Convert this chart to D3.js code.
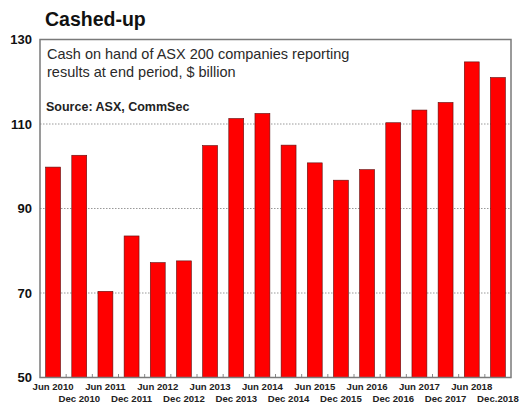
<!DOCTYPE html>
<html>
<head>
<meta charset="utf-8">
<script src="https://cdn.jsdelivr.net/npm/d3@7/dist/d3.min.js"></script>
<style>
  html, body { margin: 0; padding: 0; background: #fff; }
  svg { display: block; font-family: "Liberation Sans", Arial, sans-serif; }
</style>
</head>
<body>
<svg id="chart" width="521" height="403"></svg>
<script>
// Half-yearly reporting periods
const periods = [
  "Jun 2010", "Dec 2010", "Jun 2011", "Dec 2011", "Jun 2012", "Dec 2012",
  "Jun 2013", "Dec 2013", "Jun 2014", "Dec 2014", "Jun 2015", "Dec 2015",
  "Jun 2016", "Dec 2016", "Jun 2017", "Dec 2017", "Jun 2018", "Dec.2018"
];
// Cash on hand, $ billion
const cash = [
  99.8, 102.6, 70.4, 83.5, 77.2, 77.6,
  104.9, 111.3, 112.5, 105.0, 100.8, 96.7,
  99.2, 110.3, 113.3, 115.1, 124.7, 121.0
];
const yTicks = [50, 70, 90, 110, 130];

const svg = d3.select("#chart");
const box = { left: 40, right: 511, top: 39.5, bottom: 377.5 };

const x = d3.scaleBand()
  .domain(periods)
  .range([box.left, box.right])
  .paddingInner(0.43)
  .paddingOuter(0.215);

const y = d3.scaleLinear()
  .domain([50, 130])
  .range([box.bottom, box.top]);

// Title
svg.append("text")
  .attr("x", 45).attr("y", 26)
  .attr("font-size", 19.5).attr("font-weight", "bold")
  .attr("fill", "#111")
  .text("Cashed-up");

// Dotted gridlines
svg.append("g")
  .selectAll("line")
  .data(yTicks.filter(d => d > 50 && d < 130))
  .join("line")
  .attr("x1", box.left).attr("x2", box.right)
  .attr("y1", d => y(d)).attr("y2", d => y(d))
  .attr("stroke", "#999").attr("stroke-width", 1)
  .attr("stroke-dasharray", "1.5,1.5");

// Bars
svg.append("g")
  .selectAll("rect")
  .data(periods)
  .join("rect")
  .attr("x", d => x(d))
  .attr("width", x.bandwidth())
  .attr("y", (d, i) => y(cash[i]))
  .attr("height", (d, i) => y(50) - y(cash[i]))
  .attr("fill", "#ff0000")
  .attr("stroke", "#5a1010").attr("stroke-width", 0.6);

// Small ticks on the category axis at band boundaries
const step = x.step();
const bounds = d3.range(1, periods.length).map(i => box.left + i * step);
svg.append("g")
  .selectAll("line")
  .data(bounds)
  .join("line")
  .attr("x1", d => d).attr("x2", d => d)
  .attr("y1", box.bottom).attr("y2", box.bottom - 3.5)
  .attr("stroke", "#888").attr("stroke-width", 1);

// Plot frame
svg.append("rect")
  .attr("x", box.left).attr("y", box.top)
  .attr("width", box.right - box.left)
  .attr("height", box.bottom - box.top)
  .attr("fill", "none")
  .attr("stroke", "#7a7a7a").attr("stroke-width", 1.5);

// Y axis labels
const yAxis = d3.axisLeft(y).tickValues(yTicks).tickSize(0).tickPadding(8);
const yg = svg.append("g").attr("transform", `translate(${box.left},0)`).call(yAxis);
yg.select(".domain").remove();
yg.selectAll("text")
  .attr("font-family", "Liberation Sans, Arial, sans-serif")
  .attr("font-size", 13).attr("font-weight", "bold")
  .attr("fill", "#111");

// X axis labels, staggered over two rows
const xAxis = d3.axisBottom(x).tickSize(0).tickPadding(0);
const xg = svg.append("g").attr("transform", `translate(0,${box.bottom})`).call(xAxis);
xg.select(".domain").remove();
xg.selectAll("text")
  .attr("font-family", "Liberation Sans, Arial, sans-serif")
  .attr("font-size", 9.6).attr("font-weight", "bold")
  .attr("fill", "#222")
  .attr("dy", null)
  .attr("y", (d, i) => i % 2 === 0 ? 12.5 : 24.8);

// Subtitle and source note inside the frame
const sub = svg.append("text")
  .attr("font-size", 14.5).attr("fill", "#2a2a2a");
sub.append("tspan").attr("x", 47).attr("y", 58.5)
  .text("Cash on hand of ASX 200 companies reporting");
sub.append("tspan").attr("x", 47).attr("y", 76.5)
  .text("results at end period, $ billion");

svg.append("text")
  .attr("x", 46).attr("y", 111)
  .attr("font-size", 12.5).attr("font-weight", "bold")
  .attr("fill", "#222")
  .text("Source: ASX, CommSec");
</script>
</body>
</html>
